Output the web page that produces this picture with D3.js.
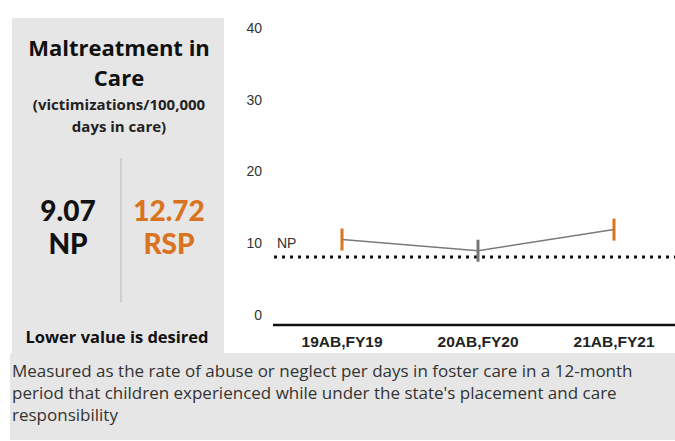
<!DOCTYPE html>
<html>
<head>
<meta charset="utf-8">
<script src="https://cdn.jsdelivr.net/npm/d3@7"></script>
<style>
  body { margin: 0; background: #fff; }
</style>
</head>
<body>
<div class="container"></div>
<script>
// data
var periods = ["19AB,FY19", "20AB,FY20", "21AB,FY21"];
var rspValues = [11.4, 9.9, 12.72];
var significant = [true, false, true];
var npValue = 9.07;
var yTicks = [0, 10, 20, 30, 40];
var descLines = [
  "Measured as the rate of abuse or neglect per days in foster care in a 12-month",
  "period that children experienced while under the state's placement and care",
  "responsibility"
];

const WIDTH = 675;
const HEIGHT = 441;
const ORANGE = "#d9731f";
const GRAY_BG = "#e6e6e6";
const PANEL_FONT = "'Open Sans', 'Noto Sans', sans-serif";
const BIG_FONT = "Lato, 'Open Sans', sans-serif";
const CHART_FONT = "'Liberation Sans', Arial, sans-serif";

var svg = d3.select('.container').append('svg')
  .attr('width', WIDTH)
  .attr('height', HEIGHT);

// backgrounds
svg.append('rect').attr('x', 12).attr('y', 18).attr('width', 212).attr('height', 336).attr('fill', GRAY_BG);
svg.append('rect').attr('x', 10).attr('y', 353).attr('width', WIDTH - 10).attr('height', 87).attr('fill', GRAY_BG);

// left panel
var panel = svg.append('g').attr('font-family', PANEL_FONT).attr('font-weight', 700).attr('text-anchor', 'middle');
panel.append('text').attr('x', 119).attr('y', 56).attr('font-size', 22).attr('fill', '#111').text('Maltreatment in');
panel.append('text').attr('x', 119).attr('y', 86).attr('font-size', 22).attr('fill', '#111').text('Care');
panel.append('text').attr('x', 119).attr('y', 110).attr('font-size', 15).attr('fill', '#222').text('(victimizations/100,000');
panel.append('text').attr('x', 119).attr('y', 132).attr('font-size', 15).attr('fill', '#222').text('days in care)');

svg.append('line').attr('x1', 121).attr('x2', 121).attr('y1', 158).attr('y2', 302)
  .attr('stroke', '#b8b8b8').attr('stroke-width', 1);

var big = svg.append('g').attr('font-family', BIG_FONT).attr('font-weight', 900).attr('text-anchor', 'middle').attr('font-size', 28);
big.append('text').attr('x', 68).attr('y', 221).attr('fill', '#111').text(d3.format('.2f')(npValue));
big.append('text').attr('x', 68).attr('y', 254).attr('fill', '#111').text('NP');
big.append('text').attr('x', 169).attr('y', 221).attr('fill', ORANGE).text(d3.format('.2f')(rspValues[rspValues.length - 1]));
big.append('text').attr('x', 169).attr('y', 254).attr('fill', ORANGE).text('RSP');

panel.append('text').attr('x', 117).attr('y', 343).attr('font-size', 16.5).attr('fill', '#111').text('Lower value is desired');

// description
svg.append('g').selectAll('text').data(descLines).enter().append('text')
  .attr('x', 12)
  .attr('y', function (d, i) { return 377 + i * 22; })
  .attr('font-family', PANEL_FONT)
  .attr('font-size', 17)
  .attr('fill', '#333')
  .text(function (d) { return d; });

// chart
var xScale = d3.scaleBand().domain(periods).range([274, 682]).padding(0);
var yScale = d3.scaleLinear().domain([0, 40]).range([325, 25]);
var yLabelScale = yScale.copy().range([315, 28]);
var cx = function (d) { return xScale(d) + xScale.bandwidth() / 2; };

var yAxis = d3.axisLeft(yLabelScale).tickValues(yTicks).tickSize(0).tickPadding(0);
var yG = svg.append('g')
  .attr('transform', 'translate(262,0)')
  .call(yAxis);
yG.select('.domain').remove();
yG.selectAll('text')
  .attr('font-family', CHART_FONT)
  .attr('font-size', 14).attr('fill', '#333');

var xAxis = d3.axisBottom(xScale).tickSize(0).tickPadding(11);
var xG = svg.append('g')
  .attr('transform', 'translate(0,' + yScale(0) + ')')
  .call(xAxis);
xG.select('.domain').attr('d', 'M273,0H675').attr('stroke', '#111').attr('stroke-width', 2.5);
xG.selectAll('text')
  .attr('font-family', CHART_FONT)
  .attr('font-size', 15.5).attr('font-weight', 700).attr('fill', '#222');

// NP reference line
svg.append('line')
  .attr('x1', 274).attr('x2', 675)
  .attr('y1', yScale(npValue)).attr('y2', yScale(npValue))
  .attr('stroke', '#111').attr('stroke-width', 3)
  .attr('stroke-dasharray', '3,5');
svg.append('text')
  .attr('x', 277).attr('y', yScale(npValue) - 9)
  .attr('font-family', CHART_FONT).attr('font-size', 14).attr('fill', '#333')
  .text('NP');

// RSP line
var pts = periods.map(function (p, i) { return [p, rspValues[i], significant[i]]; });
var line = d3.line()
  .x(function (d) { return cx(d[0]); })
  .y(function (d) { return yScale(d[1]); });
svg.append('path')
  .attr('d', line(pts))
  .attr('fill', 'none')
  .attr('stroke', '#7a7a7a')
  .attr('stroke-width', 1.5);

svg.append('g').selectAll('line').data(pts).enter().append('line')
  .attr('x1', function (d) { return cx(d[0]); })
  .attr('x2', function (d) { return cx(d[0]); })
  .attr('y1', function (d) { return yScale(d[1]) - 11; })
  .attr('y2', function (d) { return yScale(d[1]) + 11; })
  .attr('stroke', function (d) { return d[2] ? ORANGE : '#777'; })
  .attr('stroke-width', 3);
</script>
</body>
</html>
